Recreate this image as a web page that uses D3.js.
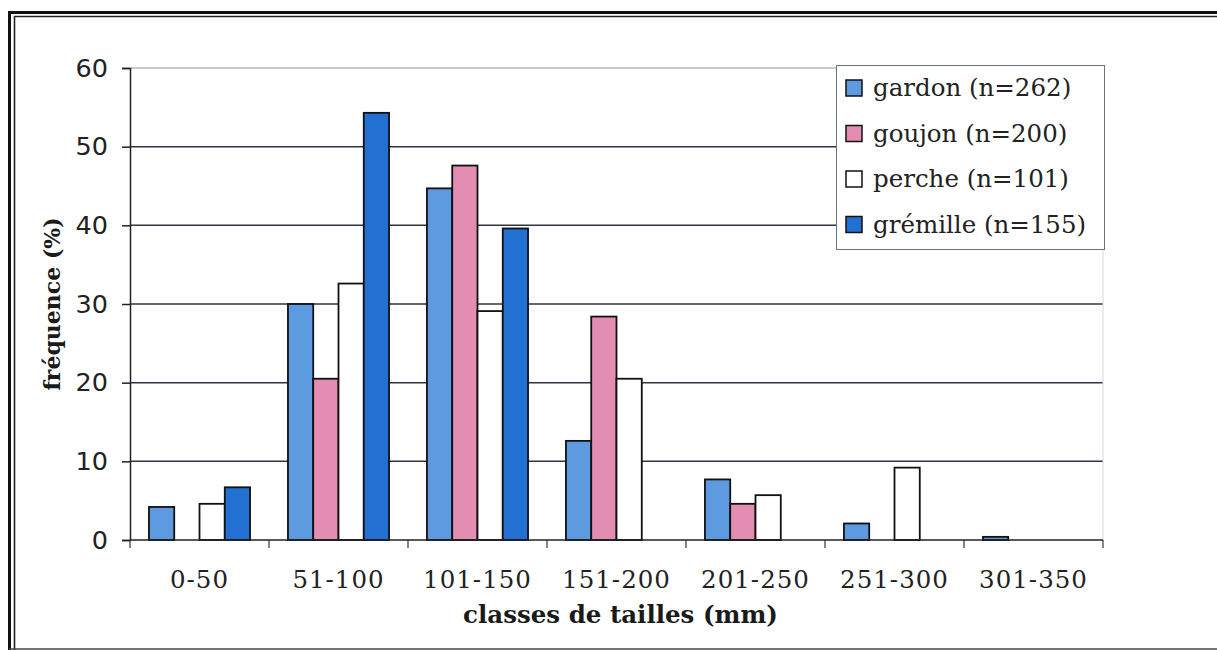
<!DOCTYPE html>
<html>
<head>
<meta charset="utf-8">
<script src="https://cdn.jsdelivr.net/npm/d3@7"></script>
<style>
  html, body { margin: 0; padding: 0; background: #fff; }
  svg { display: block; }
</style>
</head>
<body>
<svg id="chart" width="1217" height="650"></svg>
<script>
// Size classes (mm) and frequency (%) per species
const categories = ["0-50", "51-100", "101-150", "151-200", "201-250", "251-300", "301-350"];
const gardon   = [4.2, 30.0, 44.7, 12.6, 7.7, 2.1, 0.4];
const goujon   = [0, 20.5, 47.6, 28.4, 4.6, 0, 0];
const perche   = [4.6, 32.6, 29.1, 20.5, 5.7, 9.2, 0];
const gremille = [6.7, 54.3, 39.6, 0, 0, 0, 0];
const seriesNames = ["gardon (n=262)", "goujon (n=200)", "perche (n=101)", "grémille (n=155)"];
const seriesColors = ["#5e9ae0", "#e48db2", "#ffffff", "#2170d2"];
const yTicks = [0, 10, 20, 30, 40, 50, 60];

const series = [gardon, goujon, perche, gremille].map((values, i) => ({
  name: seriesNames[i], color: seriesColors[i], values
}));

const svg = d3.select("#chart");
const plot = { left: 130, right: 1103, top: 68, bottom: 540 };

// Page frame: double rule on the left and top, thin rule at the bottom
const frame = svg.append("g").attr("fill", "none");
frame.append("path").attr("d", "M9.5,650 V12.5 H1217").attr("stroke", "#111").attr("stroke-width", 3);
frame.append("path").attr("d", "M14.5,650 V16.5 H1217").attr("stroke", "#222").attr("stroke-width", 1.6);
frame.append("line").attr("x1", 9).attr("x2", 1217).attr("y1", 649).attr("y2", 649)
  .attr("stroke", "#444").attr("stroke-width", 1.5);

const x0 = d3.scaleBand().domain(categories).range([plot.left, plot.right]).padding(0);
const x1 = d3.scaleBand().domain(d3.range(series.length)).range([0, x0.bandwidth()])
  .paddingInner(0).paddingOuter(0.75);
const y = d3.scaleLinear().domain([0, 60]).range([plot.bottom, plot.top]);

// Horizontal gridlines
svg.append("g").selectAll("line").data(yTicks.filter(d => d > 0)).join("line")
  .attr("x1", plot.left).attr("x2", plot.right)
  .attr("y1", d => y(d)).attr("y2", d => y(d))
  .attr("stroke", d => d === 60 ? "#8e99aa" : "#2e3440")
  .attr("stroke-width", d => d === 60 ? 1.2 : 1.5);

// Faint right edge of the plot area
svg.append("line").attr("x1", plot.right).attr("x2", plot.right)
  .attr("y1", plot.top).attr("y2", plot.bottom)
  .attr("stroke", "#d4d8de").attr("stroke-width", 1);

// Bars
const groups = svg.append("g").selectAll("g").data(categories).join("g")
  .attr("transform", d => `translate(${x0(d)},0)`);
groups.selectAll("rect")
  .data((c, ci) => series.map((s, si) => ({ si, v: s.values[ci], color: s.color })))
  .join("rect")
  .attr("x", d => x1(d.si))
  .attr("width", x1.bandwidth())
  .attr("y", d => y(d.v))
  .attr("height", d => y(0) - y(d.v))
  .attr("fill", d => d.color)
  .attr("stroke", "#111")
  .attr("stroke-width", 1.8);

// Y axis
const yAxis = svg.append("g").attr("transform", `translate(${plot.left},0)`)
  .call(d3.axisLeft(y).tickValues(yTicks).tickSize(8).tickPadding(14));
yAxis.select(".domain").attr("stroke", "#222").attr("stroke-width", 1.5);
yAxis.selectAll(".tick line").attr("stroke", "#222").attr("stroke-width", 1.5);
yAxis.selectAll(".tick text")
  .attr("font-family", "'DejaVu Sans', sans-serif").attr("font-size", 25.5).attr("fill", "#222");

// X axis: baseline with ticks between classes
const xAxisG = svg.append("g");
xAxisG.append("line").attr("x1", plot.left).attr("x2", plot.right)
  .attr("y1", plot.bottom).attr("y2", plot.bottom)
  .attr("stroke", "#222").attr("stroke-width", 1.6);
const boundaries = categories.map(c => x0(c)).concat([plot.right]);
xAxisG.selectAll("line.tk").data(boundaries).join("line").attr("class", "tk")
  .attr("x1", d => d).attr("x2", d => d)
  .attr("y1", plot.bottom).attr("y2", plot.bottom + 8)
  .attr("stroke", "#333").attr("stroke-width", 1.2);
xAxisG.selectAll("text").data(categories).join("text")
  .attr("x", d => x0(d) + x0.bandwidth() / 2)
  .attr("y", 588)
  .attr("text-anchor", "middle")
  .attr("font-family", "'DejaVu Serif', serif")
  .attr("font-size", 24.5)
  .attr("letter-spacing", 1)
  .attr("fill", "#222")
  .text(d => d);

// Axis titles
svg.append("text")
  .attr("x", (plot.left + plot.right) / 2 + 4).attr("y", 623)
  .attr("text-anchor", "middle")
  .attr("font-family", "'DejaVu Serif', serif").attr("font-weight", "bold")
  .attr("font-size", 24.5).attr("fill", "#1a1a1a")
  .text("classes de tailles (mm)");
svg.append("text")
  .attr("transform", `translate(60,${(plot.top + plot.bottom) / 2}) rotate(-90)`)
  .attr("text-anchor", "middle")
  .attr("font-family", "'DejaVu Serif', serif").attr("font-weight", "bold")
  .attr("font-size", 22).attr("fill", "#1a1a1a")
  .text("fréquence (%)");

// Legend
const legend = svg.append("g").attr("transform", "translate(836,65)");
legend.append("rect").attr("x", 0.5).attr("y", 0.5).attr("width", 268).attr("height", 184)
  .attr("fill", "#fff").attr("stroke", "#6b7380").attr("stroke-width", 1);
const rows = legend.selectAll("g").data(series).join("g")
  .attr("transform", (d, i) => `translate(0,${23 + i * 45.5})`);
rows.append("rect").attr("x", 10).attr("y", -8).attr("width", 16).attr("height", 16)
  .attr("fill", d => d.color).attr("stroke", "#111").attr("stroke-width", 1.5);
rows.append("text").attr("x", 37).attr("y", 8)
  .attr("font-family", "'DejaVu Serif', serif").attr("font-size", 24.5)
  .attr("fill", "#222")
  .text(d => d.name);
</script>
</body>
</html>
